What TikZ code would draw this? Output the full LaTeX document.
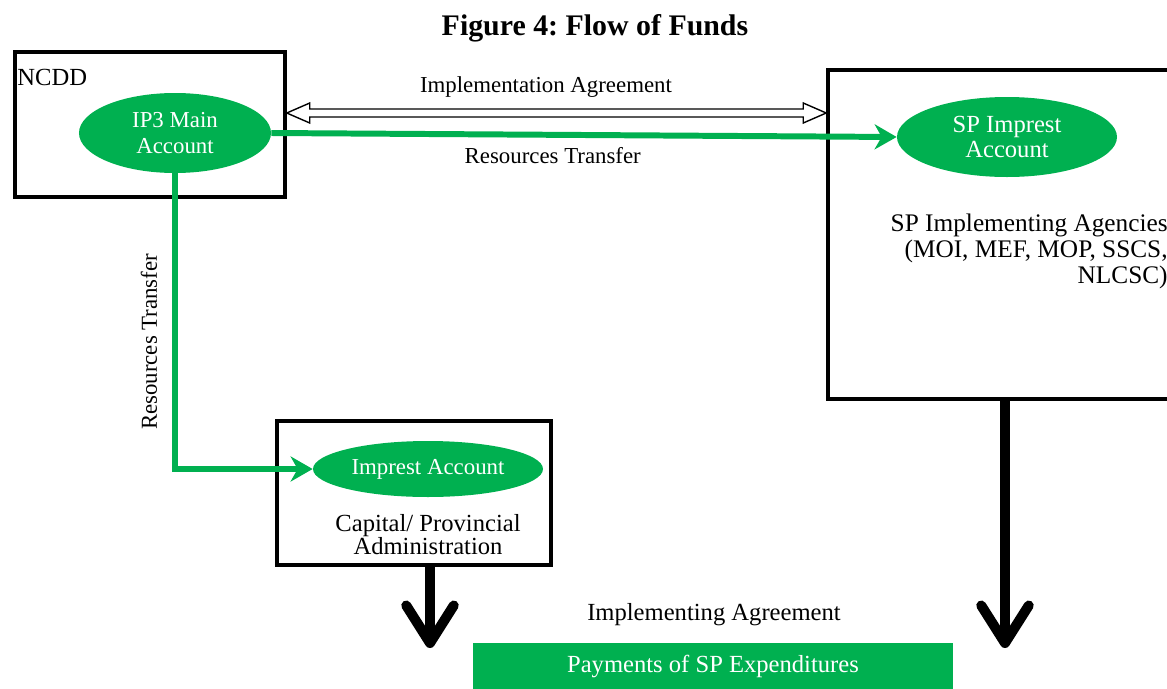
\documentclass[tikz,border=0pt]{standalone}
\usepackage{fontspec}
\setmainfont{Liberation Serif}
\usetikzlibrary{arrows.meta, positioning, shapes.geometric, calc}
\definecolor{fundgreen}{RGB}{0,176,80}
\newcommand{\txtbig}{\fontsize{14}{15}\selectfont}
\newcommand{\txtsmall}{\fontsize{13}{14}\selectfont}
\frenchspacing

\begin{document}
\begin{tikzpicture}[x=0.2mm,y=-0.2mm,
	box/.style={draw, line width=2pt, inner sep=0pt},
	acct/.style={ellipse, fill=fundgreen, text=white, align=center, inner sep=0pt},
	flow/.style={draw=fundgreen, line width=3.4pt, -{Stealth[length=4.4mm, width=5mm, inset=1.4mm]}},
	down/.style={line width=2mm, -{Straight Barb[length=7.5mm, width=9.5mm, round]}}]
	
	\useasboundingbox (0,0) rectangle (1167,689);
	
	\node (title) at (595,28) {\fontsize{17}{20}\selectfont\bfseries Figure 4: Flow of Funds};
	
	\node (ncdd) [box, minimum width=54mm, minimum height=29mm] at (150,124.5) {};
	\node (spbox) [box, minimum width=74.4mm, minimum height=65.8mm] at (1014,234.5) {};
	\node (capbox) [box, minimum width=54.8mm, minimum height=28.8mm] at (414,493) {};
	
	\node (ncddtxt) [anchor=west, inner sep=0pt] at (17,77) {\txtbig NCDD};
	\node (ip3) [acct, minimum width=38.4mm, minimum height=16mm, font=\fontsize{13}{14.5}\selectfont] at (175,133) {IP3 Main\\Account};
	\node (spimp) [acct, minimum width=44mm, minimum height=16mm, font=\fontsize{14}{14.5}\selectfont] at (1007,137) {SP Imprest\\Account};
	\node (imp) [acct, minimum width=46mm, minimum height=11.2mm, font=\txtsmall] at (428,469) {Imprest Account};
	\node (agency) [anchor=north east, align=right, inner sep=0pt, font=\fontsize{14.4}{14.8}\selectfont] at (1168,214) {SP Implementing Agencies\\(MOI, MEF, MOP, SSCS,\\NLCSC)};
	\node (captxt) [align=center, font=\fontsize{14}{13}\selectfont] at (428,534.5) {Capital/ Provincial\\Administration};
	
	\node (agreetxt) at (546,87) {\txtsmall Implementation Agreement};
	\node (impltxt) at (714,615) {\txtbig Implementing Agreement};
	\node (pay) [fill=fundgreen, text=white, minimum width=96mm, minimum height=9.4mm, font=\txtbig] at (713,666.5) {Payments of SP Expenditures};
	
	% implementation agreement, hollow double arrow
	\coordinate (agL) at (ncdd.east |- 0,113);
	\coordinate (agR) at (spbox.west |- 0,113);
	\draw [line width=0.8pt, fill=white] (agL) -- ++(23,-10) -- ++(0,6) -- ($(agR)+(-23,-4)$) -- ++(0,-6)
	-- (agR) -- ++(-23,10) -- ++(0,-6) -- ($(agL)+(23,4)$) -- ++(0,6) -- cycle;
	
	% resources transfer
	\draw [flow] (ip3.east) -- node [below=2pt, pos=0.45, text=black, font=\txtsmall] {Resources Transfer} (spimp.west);
	\draw [flow] (ip3.south) |- node [pos=0.285, rotate=90, anchor=south, yshift=1.8mm, text=black, font=\txtsmall] {Resources Transfer} (imp.west);
	
	% payments
	\coordinate (capend) at (430,648);
	\coordinate (spend) at (1005,648);
	\draw [down] (capbox.south -| capend) -- (capend);
	\draw [down] (spbox.south -| spend) -- (spend);
\end{tikzpicture}
\end{document}
